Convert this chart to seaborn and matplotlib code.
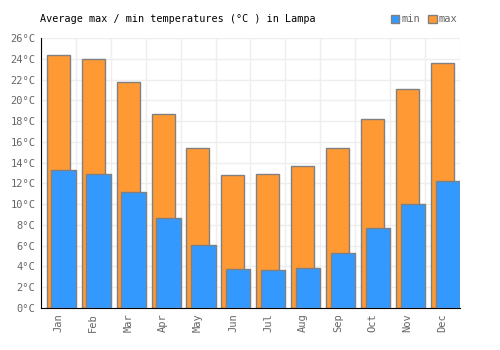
import numpy as np
import matplotlib.pyplot as plt
import seaborn as sns
from matplotlib.patches import Patch
from matplotlib.ticker import FixedLocator

# data
months = ['Jan', 'Feb', 'Mar', 'Apr', 'May', 'Jun',
          'Jul', 'Aug', 'Sep', 'Oct', 'Nov', 'Dec']
temp_max = [24.4, 24.0, 21.8, 18.7, 15.4, 12.8, 12.9, 13.7, 15.4, 18.2, 21.1, 23.6]
temp_min = [13.3, 12.9, 11.2, 8.7, 6.1, 3.8, 3.7, 3.9, 5.3, 7.7, 10.0, 12.2]
y_ticks = list(range(0, 27, 2))

MAX_COLOR = '#FF9933'
MIN_COLOR = '#3399FF'
EDGE = '#808080'
TXT = '#666666'

sns.set_style('white')
plt.rcParams['font.family'] = ['DejaVu Sans Mono', 'DejaVu Sans']

fig = plt.figure(figsize=(5, 3.5), dpi=100)
ax = fig.add_axes([0.082, 0.12, 0.838, 0.771])

idx = np.arange(len(months))
ax.bar(idx - 0.005, temp_max, width=0.66, color=MAX_COLOR, edgecolor=EDGE,
       linewidth=1, zorder=2)
ax.bar(idx + 0.15, temp_min, width=0.70, color=MIN_COLOR, edgecolor=EDGE,
       linewidth=1, zorder=3)

ax.set_xlim(-0.5, len(months) - 0.5)
ax.set_ylim(0, 26)
ax.set_xticks(idx)
ax.set_xticklabels(months, rotation=90, fontsize=7.5, color=TXT)
ax.xaxis.set_minor_locator(FixedLocator(np.arange(-0.5, len(months) + 0.5, 1)))
ax.set_yticks(y_ticks)
ax.set_yticklabels([f'{t}°C' for t in y_ticks], fontsize=7.5, color=TXT)
ax.tick_params(axis='both', which='both', length=0, pad=4)

ax.grid(True, axis='y', which='major', color='#eeeeee', linewidth=1, zorder=0)
ax.grid(True, axis='x', which='minor', color='#eeeeee', linewidth=1, zorder=0)
ax.set_axisbelow(True)

for s in ['top', 'right']:
    ax.spines[s].set_visible(False)
ax.spines['left'].set_color('black')
ax.spines['bottom'].set_color('black')

fig.text(0.08, 0.945, 'Average max / min temperatures (°C ) in Lampa',
         fontsize=7.3, color='black', va='center', ha='left')

handles = [Patch(facecolor=MIN_COLOR, edgecolor=EDGE, label='min'),
           Patch(facecolor=MAX_COLOR, edgecolor=EDGE, label='max')]
leg = fig.legend(handles=handles, loc='center right', bbox_to_anchor=(0.915, 0.945),
                 ncol=2, frameon=False, fontsize=7.5, handlelength=0.8,
                 handleheight=0.8, handletextpad=0.2, columnspacing=0.8,
                 borderaxespad=0, borderpad=0)
for t in leg.get_texts():
    t.set_color(TXT)

fig.savefig('out.png', dpi=100)
